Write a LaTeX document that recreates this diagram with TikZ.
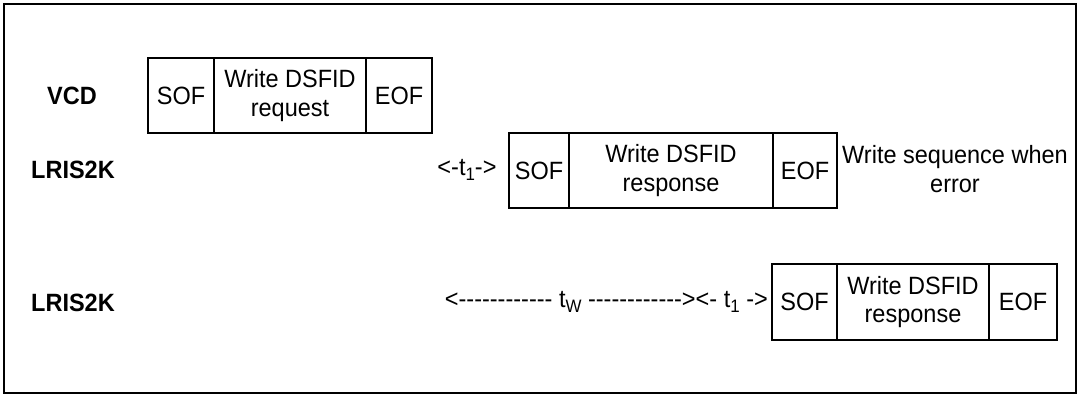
\documentclass[tikz,border=0pt]{standalone}
\usepackage{fontspec}
\newfontfamily\lab{Liberation Sans}[FakeStretch=0.94]
\newcommand\mysub[1]{\raisebox{-0.4ex}{\fontsize{18}{18}\selectfont #1}}
\begin{document}
\begin{tikzpicture}[x=1pt,y=-1pt,
  every node/.style={font=\lab\fontsize{25}{28.5}\selectfont, inner sep=0pt, align=center},
  cell/.style={draw, line width=1.6pt, anchor=center},
  rowlabel/.style={font=\lab\bfseries\fontsize{25}{28.5}\selectfont},
  txt/.style={}]
\useasboundingbox (0,0) rectangle (1080,397);
\draw[line width=2pt] (4,4) rectangle (1076,393);
% labels
\node[rowlabel] (vcd) at (72,95.5) {VCD};
\node[rowlabel] (lr1) at (73,170) {LRIS2K};
\node[rowlabel] (lr2) at (73,303) {LRIS2K};
% VCD request
\node[cell, minimum width=66pt, minimum height=75pt] (rq1) at (181,95.5) {SOF};
\node[cell, minimum width=152pt, minimum height=75pt] (rq2) at (290,95.5) {Write DSFID\\request};
\node[cell, minimum width=66pt, minimum height=75pt] (rq3) at (399,95.5) {EOF};
% response 1
\node[txt] (ta) at (467,170) {<-t\mysub{1}->};
\node[cell, minimum width=60pt, minimum height=75pt] (ra1) at (539,170.5) {SOF};
\node[cell, minimum width=204pt, minimum height=75pt] (ra2) at (671,170.5) {Write DSFID\\response};
\node[cell, minimum width=64pt, minimum height=75pt] (ra3) at (805,170.5) {EOF};
\node[txt] (err) at (955,169) {Write sequence when\\error};
% response 2
\node[txt, anchor=east] (tb) at (768,302) {<------------ t\mysub{W} ------------><- t\mysub{1} ->};
\node[cell, minimum width=65pt, minimum height=76pt] (rb1) at (804.5,302) {SOF};
\node[cell, minimum width=152pt, minimum height=76pt] (rb2) at (913,302) {Write DSFID\\response};
\node[cell, minimum width=68pt, minimum height=76pt] (rb3) at (1023,302) {EOF};
\end{tikzpicture}
\end{document}
